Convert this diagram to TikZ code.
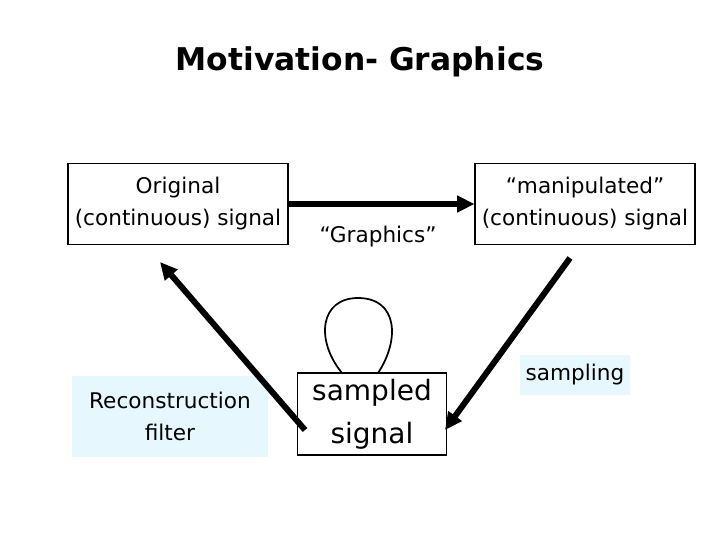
\documentclass[tikz,border=0pt]{standalone}
\usepackage{fontspec}
\setmainfont{DejaVu Sans}
\usetikzlibrary{arrows.meta}
\begin{document}
\begin{tikzpicture}[x=0.75pt,y=-0.75pt,
  box/.style={draw,line width=0.8pt,align=center,inner sep=0pt},
  cyanbox/.style={fill=cyan!10,align=center,inner sep=0pt},
  big/.style={-{Triangle[length=13pt,width=12pt]},line width=4.5pt},
  lbl/.style={font=\fontsize{16.2}{24}\selectfont}]
\useasboundingbox (0,0) rectangle (720,540);
\node[font=\bfseries\fontsize{23.5}{28}\selectfont] (title) at (360,62) {Motivation- Graphics};
\node[box,lbl,minimum width=220*0.75pt,minimum height=81*0.75pt] (orig) at (178,204) {Original\\(continuous) signal};
\node[box,lbl,minimum width=220*0.75pt,minimum height=81*0.75pt] (manip) at (585,204) {``manipulated''\\(continuous) signal};
\node[lbl] (gr) at (378,237) {``Graphics''};
\draw[big] (orig.east) -- (manip.west);
\node[cyanbox,lbl,minimum width=196*0.75pt,minimum height=81*0.75pt] (recon) at (170,416) {Reconstruction\\filter};
\node[box,font=\fontsize{21}{32}\selectfont,minimum width=149*0.75pt,minimum height=82*0.75pt] (samp) at (372,414) {sampled\\signal};
\node[cyanbox,lbl,minimum width=110*0.75pt,minimum height=40*0.75pt] (sampling) at (575,375) {sampling};
\coordinate (s1) at (570,258);
\coordinate (s2) at (445,430);
\coordinate (r1) at (305,430);
\coordinate (r2) at (160,262);
\draw[big] (s1) -- (s2);
\draw[big] (r1) -- (r2);
\coordinate (la) at (342,373);
\coordinate (lb) at (378,373);
\draw[line width=1.3pt] (la) .. controls (315,340) and (320,298) .. (358,298)
  .. controls (398,298) and (400,340) .. (lb);
\end{tikzpicture}
\end{document}
